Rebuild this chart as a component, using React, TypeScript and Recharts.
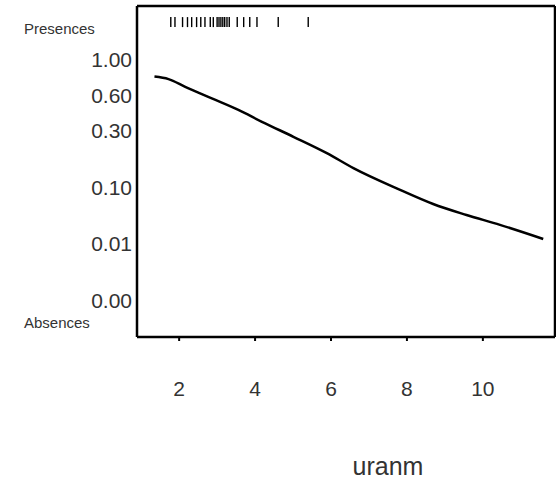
import React from 'react';
import {
  ComposedChart,
  Line,
  Scatter,
  XAxis,
  YAxis,
  ReferenceLine,
} from 'recharts';

// Fitted curve on the link scale (x = uranm).
const curveX = [1.35, 1.72, 2.16, 2.86, 3.56, 4.18, 5.01, 5.89, 6.59, 7.82, 8.69, 9.57, 10.45, 11.59];
const curveLink = [1.91, 1.82, 1.55, 1.14, 0.73, 0.31, -0.22, -0.8, -1.33, -2.1, -2.6, -2.99, -3.34, -3.84];

// Rug of presences along the top edge.
const presenceX = [
  1.78, 1.89, 2.09, 2.22, 2.33, 2.46, 2.57, 2.68, 2.82, 2.9,
  3.0, 3.05, 3.1, 3.15, 3.2, 3.26, 3.32, 3.53, 3.7, 3.86, 4.05, 4.61, 5.4,
];
const presenceLink = 3.84;

// Y ticks: link-scale positions and the labels printed there.
const yTickLink = [3.63, 2.5, 1.25, 0, -2, -4, -6, -6.81];
const yTickLabels = ['Presences', '1.00', '0.60', '0.30', '0.10', '0.01', '0.00', 'Absences'];

const xTicks = [2, 4, 6, 8, 10];
const xLabel = 'uranm';

const xDomain: [number, number] = [0.89, 11.9];
const yDomain: [number, number] = [-7.31, 4.41];

const FONT = "'Liberation Sans', Arial, sans-serif";

const curveData = curveX.map((x, i) => ({ x, link: curveLink[i] }));
const rugData = presenceX.map((x) => ({ x, link: presenceLink }));

function YTick(props: any) {
  const { x, y, payload } = props;
  const label = yTickLabels[yTickLink.indexOf(payload.value)] ?? '';
  const word = /[A-Za-z]/.test(label);
  return (
    <text
      x={word ? 24 : x}
      y={y}
      textAnchor={word ? 'start' : 'end'}
      dominantBaseline="central"
      fontFamily={FONT}
      fontSize={word ? 15 : 21}
      fill="#333"
    >
      {label}
    </text>
  );
}

function XTick(props: any) {
  const { x, y, payload } = props;
  return (
    <text
      x={x}
      y={y + 47}
      textAnchor="middle"
      dominantBaseline="central"
      fontFamily={FONT}
      fontSize={21}
      fill="#333"
    >
      {payload.value}
    </text>
  );
}

function RugMark(props: any) {
  const { cx, cy } = props;
  return <line x1={cx} x2={cx} y1={cy - 5} y2={cy + 5} stroke="#000" strokeWidth={1.4} />;
}

export default function App() {
  return (
    <div style={{ position: 'absolute', left: 0, top: 0, width: 556, height: 485, background: '#fff' }}>
      <ComposedChart
        width={556}
        height={485}
        data={curveData}
        margin={{ top: 6, right: 1, bottom: 8, left: 0 }}
      >
        <XAxis
          dataKey="x"
          type="number"
          domain={xDomain}
          ticks={xTicks}
          interval={0}
          allowDataOverflow
          height={140}
          tickSize={4}
          tickMargin={0}
          tickLine={{ stroke: '#000', strokeWidth: 2 }}
          axisLine={{ stroke: '#000', strokeWidth: 2.5 }}
          tick={<XTick />}
          label={{
            value: xLabel,
            position: 'insideBottom',
            offset: 2,
            dx: 42,
            fontSize: 25,
            fontFamily: FONT,
            fill: '#333',
          }}
        />
        <YAxis
          dataKey="link"
          type="number"
          domain={yDomain}
          ticks={yTickLink}
          interval={0}
          allowDataOverflow
          width={137}
          tickSize={0}
          tickMargin={5}
          axisLine={{ stroke: '#000', strokeWidth: 2.5 }}
          tick={<YTick />}
        />
        {/* top and right edges of the frame */}
        <ReferenceLine y={yDomain[1]} stroke="#000" strokeWidth={2.5} ifOverflow="visible" />
        <ReferenceLine x={xDomain[1]} stroke="#000" strokeWidth={2.5} ifOverflow="visible" />
        <Line
          type="monotone"
          dataKey="link"
          stroke="#000"
          strokeWidth={2.5}
          dot={false}
          isAnimationActive={false}
        />
        <Scatter
          data={rugData}
          dataKey="link"
          shape={<RugMark />}
          isAnimationActive={false}
        />
      </ComposedChart>
    </div>
  );
}
